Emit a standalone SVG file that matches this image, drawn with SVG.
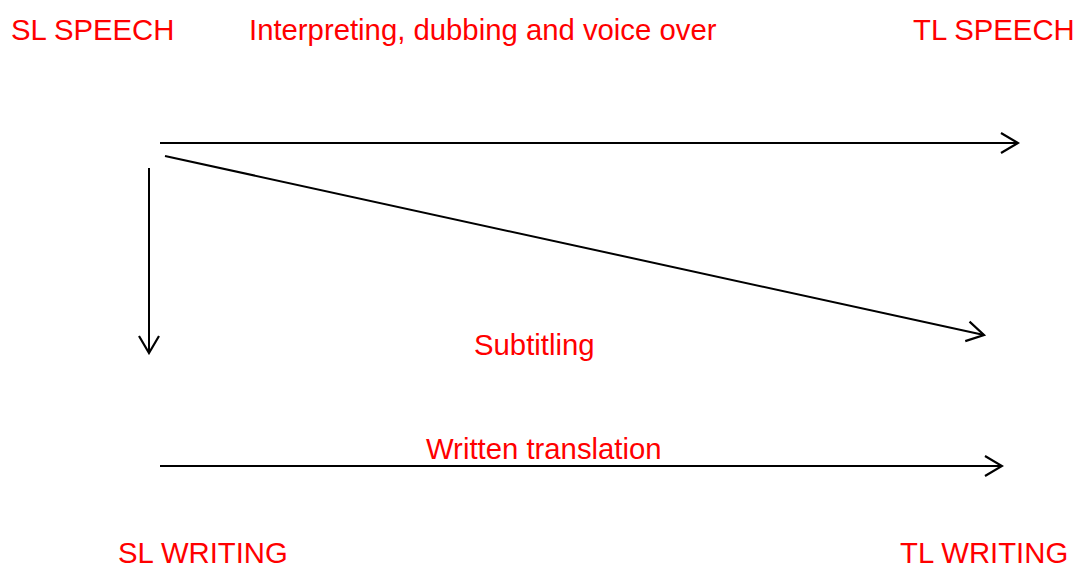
<svg xmlns="http://www.w3.org/2000/svg" width="1078" height="567" viewBox="0 0 1078 567">
  <style>
    .lbl { font-family: "Liberation Sans", Arial, sans-serif; font-size: 29.3px; fill: #ff0000; }
    .line { stroke: #000; stroke-width: 2; fill: none; }
  </style>
  <defs>
    <marker id="open" viewBox="0 0 20 24" refX="18" refY="12" markerWidth="20" markerHeight="24" markerUnits="userSpaceOnUse" orient="auto">
      <path d="M1,2 L18,12 L1,22" fill="none" stroke="#000" stroke-width="2.2"/>
    </marker>
  </defs>
  <rect width="1078" height="567" fill="#fff"/>

  <g id="sl-speech"><text class="lbl" x="11" y="40">SL SPEECH</text></g>
  <g id="tl-speech"><text class="lbl" x="913" y="40">TL SPEECH</text></g>
  <g id="sl-writing"><text class="lbl" x="118" y="563">SL WRITING</text></g>
  <g id="tl-writing"><text class="lbl" x="900" y="563">TL WRITING</text></g>

  <g id="connectors">
    <line class="line" x1="160" y1="143" x2="1018" y2="143" marker-end="url(#open)"/>
    <line class="line" x1="165" y1="156" x2="984" y2="335" marker-end="url(#open)"/>
    <line class="line" x1="149" y1="168" x2="149" y2="353" marker-end="url(#open)"/>
    <line class="line" x1="160" y1="466" x2="1002" y2="466" marker-end="url(#open)"/>
    <text class="lbl" x="249" y="40">Interpreting, dubbing and voice over</text>
    <text class="lbl" x="474" y="355">Subtitling</text>
    <text class="lbl" x="426" y="459">Written translation</text>
  </g>
</svg>
